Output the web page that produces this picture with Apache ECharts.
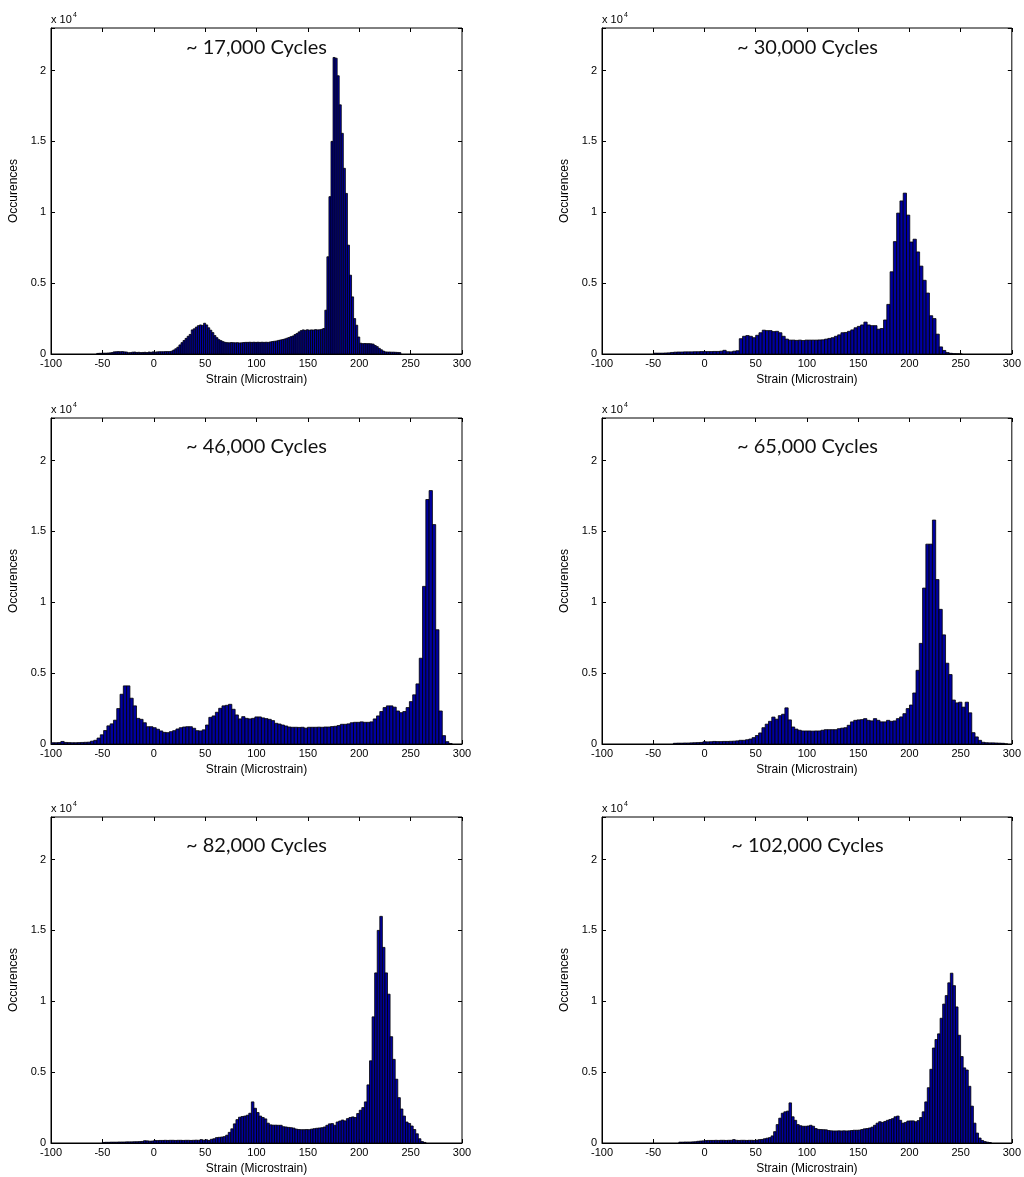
<!DOCTYPE html>
<html>
<head>
<meta charset="utf-8">
<script src="https://cdn.jsdelivr.net/npm/echarts@6/dist/echarts.min.js"></script>
<style>
  html, body { margin: 0; padding: 0; background: #fff; }
  #chart { width: 1024px; height: 1177px; }
</style>
</head>
<body>
<div id="chart"></div>
<script>
// Strain histograms at six points of the fatigue test.
const cycleLabels = ['~ 17,000 Cycles', '~ 30,000 Cycles', '~ 46,000 Cycles',
                     '~ 65,000 Cycles', '~ 82,000 Cycles', '~ 102,000 Cycles'];
const xTicks = [-100, -50, 0, 50, 100, 150, 200, 250, 300];
const yTickLabels = ['0', '0.5', '1', '1.5', '2'];

// Bin definitions (left edge of first bin, bin width, microstrain) and counts per bin.
const binStart17k = -55.5, binWidth17k = 2;
const counts17k = [
  40,50,50,60,60,70,80,100,150,160,
  170,160,170,150,140,90,100,130,140,110,
  120,100,110,120,100,140,120,150,130,150,
  160,160,160,170,170,170,200,280,370,480,
  640,800,950,1100,1250,1380,1700,1780,1900,2000,
  2050,2020,2170,2050,1850,1680,1510,1300,1150,1010,
  940,870,820,800,790,810,800,790,800,780,
  790,810,820,820,830,820,830,820,830,820,
  830,820,830,820,850,880,900,920,960,990,
  1020,1060,1110,1160,1220,1270,1370,1450,1560,1650,
  1700,1670,1710,1680,1700,1690,1720,1700,1710,1740,
  1800,3090,6860,11100,15000,20920,20870,19630,17580,15570,
  13100,11330,7680,5560,4030,2500,2030,1200,760,730,
  740,730,730,720,700,600,520,400,300,210,
  150,140,140,130,130,120,110,100
];

const binStart30k = -49.2, binWidth30k = 3.2;
const counts30k = [
  60,60,60,70,80,110,130,140,140,150,
  150,150,160,160,170,170,170,170,180,180,
  200,260,160,150,200,230,1080,1250,1300,1250,
  1150,1320,1500,1680,1650,1650,1580,1600,1500,1250,
  1050,980,980,960,980,950,980,980,980,980,
  990,1000,1050,1100,1150,1250,1350,1500,1520,1600,
  1700,1850,1950,2050,2250,2050,2000,2000,1750,1800,
  2400,3500,5800,7930,9940,10800,11350,9800,7900,8100,
  7200,6200,5200,4300,2700,2500,1400,500,250,100,
  50,20,10,0
];

const binStart46k = -100, binWidth46k = 3.2;
const counts46k = [
  90,90,100,180,110,100,90,90,100,110,
  120,130,200,260,420,650,950,1280,1420,1680,
  2500,3510,4100,4100,3230,2690,1810,1740,1500,1220,
  1220,1150,1040,920,820,800,870,940,1060,1150,
  1200,1220,1220,1110,940,920,1000,1340,1880,1980,
  2240,2520,2690,2730,2800,2450,2050,1770,1930,1810,
  1770,1810,1910,1910,1840,1790,1740,1650,1460,1410,
  1340,1270,1200,1180,1180,1170,1180,1120,1180,1180,
  1180,1190,1180,1200,1200,1230,1250,1300,1390,1390,
  1420,1500,1530,1530,1560,1530,1530,1560,1770,1980,
  2290,2570,2690,2690,2600,2330,2210,2290,2570,2990,
  3470,4240,6050,11120,17250,17880,15480,8060,2330,590,
  165,30
];

const binStart65k = -30.3, binWidth65k = 3.2;
const counts65k = [
  50,60,60,70,70,80,90,100,110,160,
  150,160,180,170,170,180,180,190,200,220,
  260,260,300,350,450,600,780,1150,1400,1600,
  1900,1750,2000,2100,2550,1700,1200,1050,970,920,
  920,920,910,920,920,970,1010,1010,1010,1010,
  1080,1120,1150,1320,1560,1670,1700,1720,1790,1670,
  1630,1790,1670,1560,1560,1670,1600,1630,1790,1910,
  2140,2500,2750,3600,5200,7100,11000,14100,14100,15800,
  11600,9500,7700,5700,4900,3100,2900,2950,2600,2950,
  2200,800,500,260,120,90,80,80,70,60,
  50,0
];

const binStart82k = -50, binWidth82k = 2.5;
const counts82k = [
  40,50,50,60,60,60,70,70,70,80,
  80,80,90,90,100,110,160,150,130,140,
  180,170,180,180,190,180,190,190,180,190,
  190,180,190,190,180,190,200,190,240,200,
  230,180,260,300,380,400,420,450,550,750,
  1000,1350,1650,1820,1870,1900,1960,2100,2900,2450,
  2150,1900,1800,1700,1400,1280,1260,1260,1250,1250,
  1150,1130,1100,1080,1050,980,950,940,940,950,
  940,980,1010,1040,1060,1080,1130,1250,1350,1370,
  1250,1480,1550,1620,1560,1720,1800,1840,1800,2080,
  2310,2500,2900,4100,5800,8900,12000,15000,15990,13800,
  12000,10500,7500,5900,4500,3200,2400,1900,1480,1380,
  1200,950,650,300,100,40
];

const binStart102k = -25, binWidth102k = 2.5;
const counts102k = [
  60,60,70,70,70,80,90,120,140,150,
  170,180,180,180,190,180,190,190,180,190,
  190,240,190,180,190,190,180,190,190,180,
  200,240,250,300,340,380,500,800,1300,1750,
  2100,2200,2250,2830,1850,1600,1300,1220,1180,1180,
  1200,1250,1180,1020,960,950,940,930,880,860,
  850,850,860,850,860,850,860,880,900,900,
  910,950,1000,1020,1060,1120,1250,1400,1500,1450,
  1520,1600,1660,1720,1850,1900,1600,1400,1450,1550,
  1560,1560,1500,1580,1800,2200,2900,3900,5200,6700,
  7300,7700,8800,9800,10400,11300,11980,11100,9600,7600,
  6100,5300,5150,4000,2600,1400,700,350,180,100,
  60,30
];

const histograms = [
  { start: binStart17k,  width: binWidth17k,  counts: counts17k },
  { start: binStart30k,  width: binWidth30k,  counts: counts30k },
  { start: binStart46k,  width: binWidth46k,  counts: counts46k },
  { start: binStart65k,  width: binWidth65k,  counts: counts65k },
  { start: binStart82k,  width: binWidth82k,  counts: counts82k },
  { start: binStart102k, width: binWidth102k, counts: counts102k }
];

// Panel boxes (pixels) and per-panel text placement.
const plotW = 411, plotH = 326;
const panels = [
  { left: 51,  top: 28,  titleDy: 20 },
  { left: 602, top: 28,  titleDy: 20 },
  { left: 51,  top: 418, titleDy: 29 },
  { left: 602, top: 418, titleDy: 29 },
  { left: 51,  top: 817, titleDy: 29 },
  { left: 602, top: 817, titleDy: 29 }
];

const labelFont = 'Liberation Sans, Arial, Helvetica, sans-serif';
const yMax = 23000;

const grids = [], xAxes = [], yAxes = [], series = [], graphics = [];
const tickStyle = { show: true, inside: true, length: 4, lineStyle: { color: '#000' } };

panels.forEach((p, i) => {
  grids.push({
    left: p.left, top: p.top, width: plotW, height: plotH,
    show: true, borderColor: '#000', borderWidth: 1, backgroundColor: '#fff'
  });

  // bottom axis with labels + top mirror axis with ticks only
  xAxes.push({
    gridIndex: i, type: 'value', position: 'bottom',
    min: xTicks[0], max: xTicks[xTicks.length - 1], interval: xTicks[1] - xTicks[0],
    name: 'Strain (Microstrain)', nameLocation: 'middle', nameGap: 20,
    nameTextStyle: { color: '#000', fontSize: 12, fontFamily: labelFont },
    axisLine: { show: true, onZero: false, lineStyle: { color: '#000', width: 1 } },
    axisTick: tickStyle,
    axisLabel: { color: '#000', fontSize: 11, fontFamily: labelFont, margin: 4 },
    splitLine: { show: false }
  });
  xAxes.push({
    gridIndex: i, type: 'value', position: 'top',
    min: xTicks[0], max: xTicks[xTicks.length - 1], interval: xTicks[1] - xTicks[0],
    axisLine: { show: false, onZero: false },
    axisTick: tickStyle,
    axisLabel: { show: false },
    splitLine: { show: false }
  });

  yAxes.push({
    gridIndex: i, type: 'value', position: 'left',
    min: 0, max: yMax, interval: 5000,
    name: 'Occurences', nameLocation: 'middle', nameGap: 31,
    nameTextStyle: { color: '#000', fontSize: 12, fontFamily: labelFont },
    axisLine: { show: true, onZero: false, lineStyle: { color: '#000', width: 1 } },
    axisTick: tickStyle,
    axisLabel: {
      color: '#000', fontSize: 11, fontFamily: labelFont, margin: 5,
      formatter: v => (v % 5000 === 0 ? (yTickLabels[v / 5000] || '') : '')
    },
    splitLine: { show: false }
  });
  yAxes.push({
    gridIndex: i, type: 'value', position: 'right',
    min: 0, max: yMax, interval: 5000,
    axisLine: { show: false, onZero: false },
    axisTick: tickStyle,
    axisLabel: { show: false },
    splitLine: { show: false }
  });

  const h = histograms[i];
  const data = h.counts.map((c, k) => [h.start + k * h.width, h.start + (k + 1) * h.width, c]);

  series.push({
    type: 'custom',
    xAxisIndex: 2 * i, yAxisIndex: 2 * i,
    clip: true,
    silent: true,
    encode: { x: [0, 1], y: 2 },
    data: data,
    renderItem: (params, api) => {
      const a = api.coord([api.value(0), api.value(2)]);
      const b = api.coord([api.value(1), 0]);
      return {
        type: 'rect',
        shape: { x: a[0], y: a[1], width: b[0] - a[0], height: b[1] - a[1] },
        style: { fill: '#0000a0', stroke: '#000', lineWidth: 0.8 }
      };
    }
  });

  // cycle count caption inside the panel
  graphics.push({
    type: 'text', x: p.left + plotW / 2, y: p.top + p.titleDy,
    style: {
      text: cycleLabels[i],
      font: '20px Lato, "Open Sans", sans-serif', fill: '#111',
      textAlign: 'center', textVerticalAlign: 'middle'
    }
  });
  // axis multiplier
  graphics.push({
    type: 'text', x: p.left, y: p.top - 8,
    style: { text: 'x 10', font: '11px ' + labelFont, fill: '#000', textVerticalAlign: 'middle' }
  });
  graphics.push({
    type: 'text', x: p.left + 22, y: p.top - 13,
    style: { text: '4', font: '7px ' + labelFont, fill: '#000', textVerticalAlign: 'middle' }
  });
});

const chart = echarts.init(document.getElementById('chart'), null, { renderer: 'canvas' });
chart.setOption({
  animation: false,
  backgroundColor: '#fff',
  grid: grids,
  xAxis: xAxes,
  yAxis: yAxes,
  series: series,
  graphic: { elements: graphics }
});
</script>
</body>
</html>
